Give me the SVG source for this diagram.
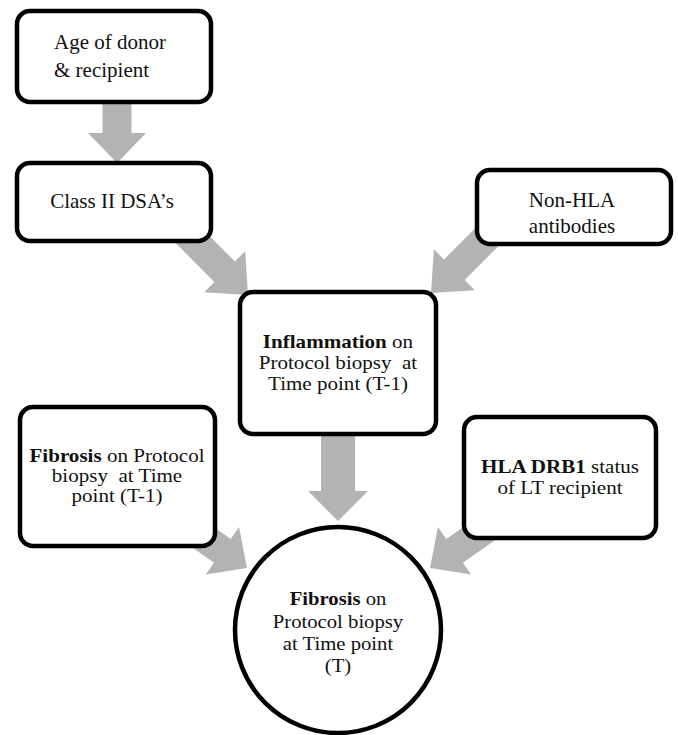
<svg xmlns="http://www.w3.org/2000/svg" width="678" height="735" viewBox="0 0 678 735">
<defs>
<style>
.box{fill:#fff;stroke:#000;stroke-width:4.5}
.arr{fill:#b3b3b3}
text{font-family:"Liberation Serif","Times New Roman",serif;font-size:21px;fill:#111}
.s text{font-size:18px}
.c{text-anchor:middle}
.b{font-weight:bold}
</style>
<polygon id="diag" points="-80,-14.5 -30,-14.5 -30,-29 0,0 -30,29 -30,14.5 -80,14.5"/>
</defs>
<rect width="678" height="735" fill="#fff"/>
<g id="connectors">
<polygon class="arr" points="102.5,103 131.5,103 131.5,133 146,133 117,163 88,133 102.5,133"/>
<use href="#diag" class="arr" transform="translate(248,295) rotate(45) scale(1.1,1)"/>
<use href="#diag" class="arr" transform="translate(431,293) rotate(135) scale(1.1,1)"/>
<polygon class="arr" points="321,433 355,433 355,491 368,491 338,521 308,491 321,491"/>
<use href="#diag" class="arr" transform="translate(247,568) rotate(35)"/>
<use href="#diag" class="arr" transform="translate(430,568) rotate(145)"/>
</g>
<g id="age">
<rect class="box" x="17" y="11" width="194" height="91" rx="13"/>
<text x="54" y="49">Age of donor</text>
<text x="54" y="77">&amp; recipient</text>
</g>
<g id="classII">
<rect class="box" x="17" y="163" width="194" height="78" rx="13"/>
<text class="c" x="112" y="208">Class II DSA’s</text>
</g>
<g id="nonhla">
<rect class="box" x="477" y="170" width="194" height="74" rx="13"/>
<text class="c" x="572" y="207">Non-HLA</text>
<text class="c" x="572" y="233">antibodies</text>
</g>
<g id="inflammation">
<rect class="box" x="240" y="292" width="196" height="142" rx="13"/>
<g class="s" transform="translate(338,0) scale(1.17,1)">
<text class="c" x="0" y="348"><tspan class="b">Inflammation</tspan> on</text>
<text class="c" x="0" y="369">Protocol biopsy&#160; at</text>
<text class="c" x="0" y="390">Time point (T-1)</text>
</g>
</g>
<g id="fibrosisPrev">
<rect class="box" x="20" y="407" width="195" height="139" rx="13"/>
<g class="s" transform="translate(117,0) scale(1.17,1)">
<text class="c" x="0" y="462"><tspan class="b">Fibrosis</tspan> on Protocol</text>
<text class="c" x="0" y="482">biopsy&#160; at Time</text>
<text class="c" x="0" y="502">point (T-1)</text>
</g>
</g>
<g id="hla">
<rect class="box" x="464" y="417" width="192" height="121" rx="13"/>
<g class="s" transform="translate(560,0) scale(1.17,1)">
<text class="c" x="0" y="473"><tspan class="b">HLA DRB1</tspan> status</text>
<text class="c" x="0" y="494">of LT recipient</text>
</g>
</g>
<g id="fibrosisT">
<circle class="box" cx="338" cy="630" r="103"/>
<g class="s" transform="translate(338,0) scale(1.15,1)">
<text class="c" x="0" y="605"><tspan class="b">Fibrosis</tspan> on</text>
<text class="c" x="0" y="628">Protocol biopsy</text>
<text class="c" x="0" y="650">at Time point</text>
<text class="c" x="0" y="672">(T)</text>
</g>
</g>
</svg>
